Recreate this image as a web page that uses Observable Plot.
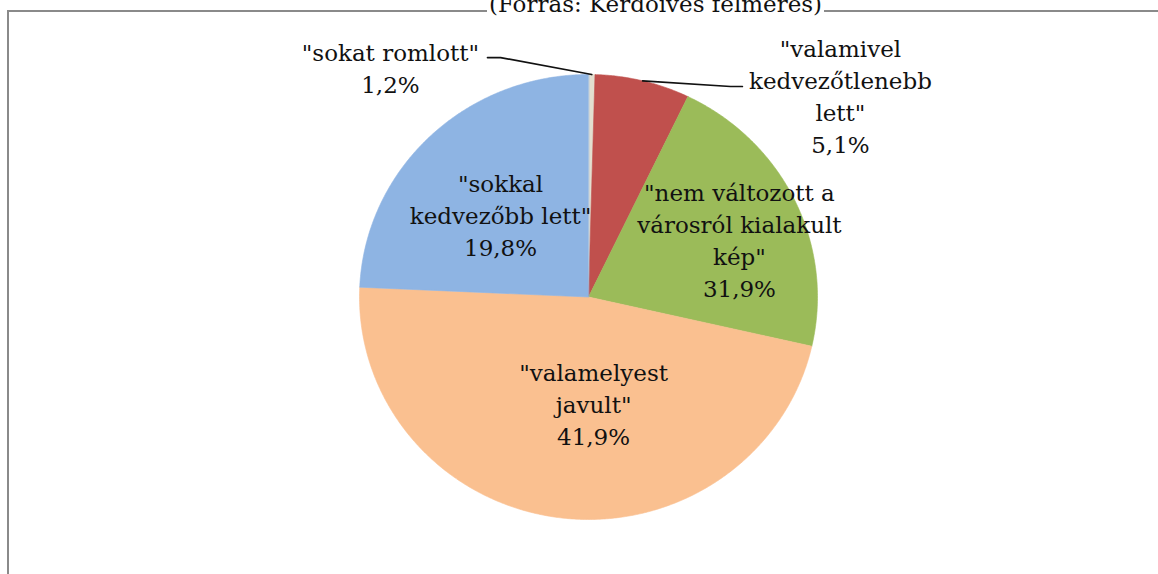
<!DOCTYPE html>
<html>
<head>
<meta charset="utf-8">
<script src="https://cdn.jsdelivr.net/npm/d3@7"></script>
<script src="https://cdn.jsdelivr.net/npm/@observablehq/plot@0.6"></script>
<style>
  html, body { margin: 0; padding: 0; background: #fff; }
  #wrap { position: relative; width: 1158px; height: 574px; overflow: hidden; background: #fff; }
  #wrap svg { position: absolute; left: 0; top: 0; }
  #border { position: absolute; left: 7px; top: 10px; width: 3000px; height: 3000px;
            border-left: 2px solid #8a8a8a; border-top: 2px solid #8a8a8a; }
  #title { position: absolute; left: 0; width: 1311px; top: -7.4px; text-align: center;
           font-family: "DejaVu Serif", serif; font-size: 23px; line-height: 23px; color: #111; }
  #title span { background: #fff; padding: 0 2px; }
</style>
</head>
<body>
<div id="wrap"></div>
<script>
// ---- data ----
const categories = ["sokat romlott", "valamivel kedvezőtlenebb lett", "nem változott a városról kialakult kép", "valamelyest javult", "sokkal kedvezőbb lett"];
const labelText = ['"sokat romlott"', '"valamivel\nkedvezőtlenebb\nlett"', '"nem változott a\nvárosról kialakult\nkép"', '"valamelyest\njavult"', '"sokkal\nkedvezőbb lett"'];
const labelPercent = [1.2, 5.1, 31.9, 41.9, 19.8];
// slice sizes as drawn in the picture (share of the full circle, %)
const sliceShare = [0.45, 6.7, 21.4, 47.15, 24.3];
const sliceColors = ["#E3DFD0", "#C0504D", "#9BBB59", "#FAC090", "#8EB4E3"];
const titleText = "(Forrás: Kérdőíves felmérés)";

// ---- layout (pie units: radius = 1) ----
const labelAt = [[-0.865, 1.033], [1.100, 0.908], [0.659, 0.262], [0.022, -0.477], [-0.384, 0.374]];
const leaderBends = [[[-0.384, 1.076], [-0.441, 1.076]], [[0.620, 0.946], [0.672, 0.946]], null, null, null];

// ---- geometry from data ----
const pie = d3.pie().sort(null).value(d => d.share).startAngle(0).endAngle(2 * Math.PI);
const rows = categories.map((c, i) => ({category: c, share: sliceShare[i], i}));
const arcs = pie(rows);

const polyPts = [];
arcs.forEach(a => {
  const c = a.data.category;
  polyPts.push({category: c, x: 0, y: 0});
  const n = Math.max(2, Math.ceil((a.endAngle - a.startAngle) / (0.4 * Math.PI / 180)));
  for (let k = 0; k <= n; k++) {
    const t = a.startAngle + (a.endAngle - a.startAngle) * k / n;
    polyPts.push({category: c, x: Math.sin(t), y: Math.cos(t)});
  }
});

const leaderPts = [];
arcs.forEach((a, i) => {
  if (!leaderBends[i]) return;
  const m = (a.startAngle + a.endAngle) / 2;
  leaderPts.push({id: i, x: Math.sin(m), y: Math.cos(m)});
  leaderBends[i].forEach(([x, y]) => leaderPts.push({id: i, x, y}));
});

const fmt = v => v.toFixed(1).replace(".", ",") + "%";
const labels = categories.map((c, i) => ({
  x: labelAt[i][0], y: labelAt[i][1],
  text: labelText[i] + "\n" + fmt(labelPercent[i])
}));

const chart = Plot.plot({
  width: 1158,
  height: 574,
  margin: 0,
  x: {domain: [-1, 1], range: [359, 817], axis: null},
  y: {domain: [-1, 1], range: [519, 74], axis: null},
  color: {domain: categories, range: sliceColors},
  style: {fontFamily: "DejaVu Serif, serif", background: "#fff", overflow: "visible"},
  marks: [
    Plot.line(polyPts, {x: "x", y: "y", z: "category", fill: "category", stroke: "category", strokeWidth: 0.6, curve: "linear-closed"}),
    Plot.line(leaderPts, {x: "x", y: "y", z: "id", stroke: "#111", strokeWidth: 1.7}),
    Plot.text(labels, {x: "x", y: "y", text: "text", fontSize: 23, lineHeight: 1.39, lineAnchor: "middle", textAnchor: "middle", fill: "#111"})
  ]
});

const wrap = document.getElementById("wrap");
wrap.appendChild(chart);
const border = document.createElement("div");
border.id = "border";
wrap.appendChild(border);
const title = document.createElement("div");
title.id = "title";
const span = document.createElement("span");
span.textContent = titleText;
title.appendChild(span);
wrap.appendChild(title);
</script>
</body>
</html>
